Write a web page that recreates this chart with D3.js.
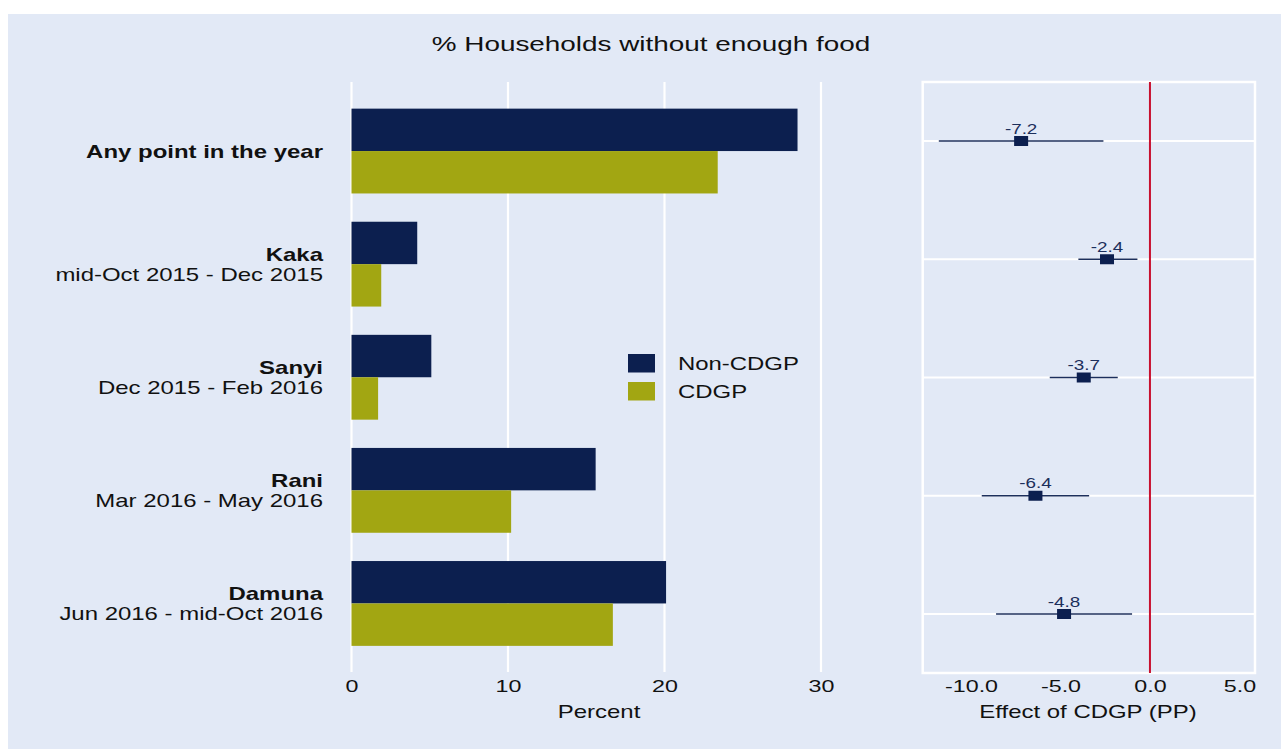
<!DOCTYPE html>
<html>
<head>
<meta charset="utf-8">
<script src="https://cdn.jsdelivr.net/npm/d3@7"></script>
<style>
html,body{margin:0;padding:0;background:#fff;}
svg{display:block;font-family:"Liberation Sans",Arial,Helvetica,sans-serif;}
</style>
</head>
<body>
<svg id="chart" width="1281" height="749"></svg>
<script>
const categories = ["Any point in the year","Kaka","Sanyi","Rani","Damuna"];
const periods = ["","mid-Oct 2015 - Dec 2015","Dec 2015 - Feb 2016","Mar 2016 - May 2016","Jun 2016 - mid-Oct 2016"];
const nonCDGP = [28.5, 4.2, 5.1, 15.6, 20.1];
const cdgp = [23.4, 1.9, 1.7, 10.2, 16.7];
const effect = [-7.2, -2.4, -3.7, -6.4, -4.8];
const ciLow = [-11.8, -4.0, -5.6, -9.4, -8.6];
const ciHigh = [-2.6, -0.7, -1.8, -3.4, -1.0];
const leftTicks = [0, 10, 20, 30];
const rightTicks = [-10, -5, 0, 5];
const seriesNames = ["Non-CDGP", "CDGP"];

const navy = "#0c1f4f", olive = "#a2a612", bg = "#e2e9f6", red = "#c8102e";
const SX = 1.37;
const svg = d3.select("#chart");

function txt(x, y, s, o = {}) {
  return svg.append("text")
    .attr("transform", `translate(${x},${y}) scale(${o.sx || SX},1)`)
    .attr("text-anchor", o.anchor || "start")
    .attr("font-size", o.size || 17.5)
    .attr("font-weight", o.bold ? "bold" : null)
    .attr("fill", o.fill || "#111")
    .text(s);
}
const fmt1 = v => d3.format(".1f")(v).replace("\u2212", "-");

svg.append("rect").attr("x", 8).attr("y", 14).attr("width", 1281-8).attr("height", 749-14).attr("fill", bg);

txt(651, 51, "% Households without enough food", {anchor: "middle", size: 19.5, sx: 1.43});

// ---------- Left panel ----------
const x = d3.scaleLinear().domain([0, 30]).range([351.5, 821]);
const yTop = 82, yBot = 672;
const yBand = d3.scaleBand().domain(categories).range([94.5, 660]).paddingInner(0.25).paddingOuter(0.125);

const gL = svg.append("g");
gL.selectAll("line.grid").data(leftTicks).join("line")
  .attr("x1", d => x(d)).attr("x2", d => x(d)).attr("y1", yTop).attr("y2", yBot)
  .attr("stroke", "#fff").attr("stroke-width", 2.2);

const yInner = d3.scaleBand().domain(seriesNames).range([0, yBand.bandwidth()]);
const rows = categories.map((c, i) => ({c, i}));
gL.selectAll("rect.non").data(rows).join("rect")
  .attr("x", x(0)).attr("y", d => yBand(d.c) + yInner("Non-CDGP"))
  .attr("width", d => x(nonCDGP[d.i]) - x(0)).attr("height", yInner.bandwidth())
  .attr("fill", navy);
gL.selectAll("rect.cd").data(rows).join("rect")
  .attr("x", x(0)).attr("y", d => yBand(d.c) + yInner("CDGP"))
  .attr("width", d => x(cdgp[d.i]) - x(0)).attr("height", yInner.bandwidth())
  .attr("fill", olive);

// category labels
rows.forEach(d => {
  const cy = yBand(d.c) + yBand.bandwidth() / 2;
  if (periods[d.i] === "") {
    txt(323, cy + 6.5, d.c, {anchor: "end", bold: true});
  } else {
    txt(323, cy - 3, d.c, {anchor: "end", bold: true});
    txt(323, cy + 17, periods[d.i], {anchor: "end"});
  }
});

// left axis
const axL = d3.axisBottom(x).tickValues(leftTicks).tickSize(0).tickPadding(0).tickFormat(d3.format("d"));
const gAxL = svg.append("g").attr("transform", `translate(0,${yBot})`).call(axL);
gAxL.select(".domain").remove();
gAxL.selectAll("text").attr("font-size", 17).attr("fill", "#111").attr("dy", "1.15em")
  .attr("transform", `scale(${SX},1)`)
  .attr("font-family", "Liberation Sans, Arial, sans-serif");
txt(599, 718, "Percent", {anchor: "middle"});

// legend
const legendColors = [navy, olive];
seriesNames.forEach((s, i) => {
  svg.append("rect").attr("x", 628).attr("y", 354 + i * 28).attr("width", 27).attr("height", 18.5).attr("fill", legendColors[i]);
  txt(678, 369.5 + i * 28, s, {size: 18, sx: 1.33});
});

// ---------- Right panel ----------
const xr = d3.scaleLinear().domain([-12.7, 5.87]).range([922.7, 1255]);
const yr = d3.scalePoint().domain(categories).range([141, 614]);
const rTop = 82, rBot = 673;
const gR = svg.append("g");
gR.selectAll("line.hg").data(categories).join("line")
  .attr("x1", xr.range()[0]).attr("x2", xr.range()[1]).attr("y1", d => yr(d)).attr("y2", d => yr(d))
  .attr("stroke", "#fff").attr("stroke-width", 2.2);
gR.append("rect").attr("x", xr.range()[0]).attr("y", rTop).attr("width", xr.range()[1] - xr.range()[0])
  .attr("height", rBot - rTop).attr("fill", "none").attr("stroke", "#fff").attr("stroke-width", 2.5);
gR.append("line").attr("x1", xr(0)).attr("x2", xr(0)).attr("y1", rTop).attr("y2", rBot)
  .attr("stroke", red).attr("stroke-width", 2);

gR.selectAll("line.ci").data(rows).join("line")
  .attr("x1", d => xr(ciLow[d.i])).attr("x2", d => xr(ciHigh[d.i]))
  .attr("y1", d => yr(d.c)).attr("y2", d => yr(d.c))
  .attr("stroke", "#1c2f5c").attr("stroke-width", 1.6);
gR.selectAll("rect.pt").data(rows).join("rect")
  .attr("x", d => xr(effect[d.i]) - 7).attr("y", d => yr(d.c) - 5)
  .attr("width", 14).attr("height", 10).attr("fill", navy);
rows.forEach(d => {
  txt(xr(effect[d.i]), yr(d.c) - 7.5, fmt1(effect[d.i]), {anchor: "middle", size: 14.5, sx: 1.3, fill: "#1c2f5c"});
});

const axR = d3.axisBottom(xr).tickValues(rightTicks).tickSize(0).tickPadding(0).tickFormat(fmt1);
const gAxR = svg.append("g").attr("transform", `translate(0,${rBot})`).call(axR);
gAxR.select(".domain").remove();
gAxR.selectAll("text").attr("font-size", 17).attr("fill", "#111").attr("dy", "1.1em")
  .attr("transform", `scale(${SX},1)`)
  .attr("font-family", "Liberation Sans, Arial, sans-serif");
txt(1088, 718, "Effect of CDGP (PP)", {anchor: "middle"});
</script>
</body>
</html>
